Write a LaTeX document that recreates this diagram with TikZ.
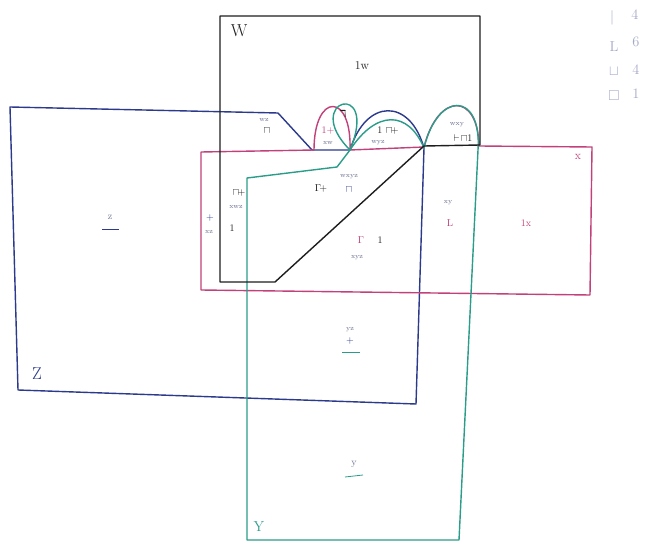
\documentclass[tikz,border=0pt]{standalone}
\usepackage{amsmath, amssymb}
\usepackage{tikz}

\definecolor{wcol}{HTML}{1E1E1E}
\definecolor{xcol}{HTML}{C2417A}
\definecolor{ycol}{HTML}{2A9D8A}
\definecolor{zcol}{HTML}{2B3A8C}
\definecolor{lab}{HTML}{6A6F90}
\definecolor{leg}{HTML}{A4A9C8}

\tikzset{
  setline/.style={line width=1.4pt, line join=round},
  tag/.style={text=lab, font=\scriptsize, inner sep=0.5pt},
  sym/.style={font=\normalsize, inner sep=0.5pt},
  legtxt/.style={text=leg, font=\Large, inner sep=0.5pt}
}

\begin{document}
\begin{tikzpicture}[x=1pt,y=-1pt]
    \useasboundingbox (0,0) rectangle (645,548);
    \fill[white] (0,0) rectangle (645,548);
    % the four sets
    \draw[setline,zcol] (10,107) -- (278,113) -- (312,150) -- (350,150)
        .. controls (366,98) and (410,98) .. (424,148) -- (416,404) -- (18,390) -- cycle;
    \draw[setline,xcol] (201,152) -- (201,290) -- (590,295) -- (592,147) -- (479,146)
        .. controls (478,92) and (438,92) .. (424,147) -- (350,150)
        .. controls (352,92) and (314,92) .. (314,150) -- cycle;
    \draw[setline,ycol] (247,540) -- (247,178) -- (337,167) -- (350,150)
        .. controls (376,110) and (408,110) .. (424,148)
        .. controls (438,90) and (482,92) .. (478,150) -- (459,540) -- cycle;
    \draw[setline,ycol] (350,150) .. controls (300,100) and (380,78) .. (350,150);
    \draw[setline,wcol] (220,16) -- (480,16) -- (480,145) -- (424,146) -- (275,282) -- (220,282) -- cycle;
    % set names
    \node[text=wcol,font=\LARGE] (nameW) at (239,31) {W};
    \node[text=zcol,font=\LARGE] (nameZ) at (37,374) {Z};
    \node[text=ycol,font=\Large] (nameY) at (259,527) {Y};
    \node[text=xcol,font=\large] (nameX) at (578,157) {x};
    % regions
    \node[text=wcol,font=\large] (rw) at (362,66) {1w};
    \node[tag] (twz) at (264,120) {wz};
    \node[sym,text=wcol] (swz) at (267,131) {$\sqcap$};
    \node[sym,text=xcol] (sxw) at (328,131) {1+};
    \node[tag] (txw) at (328,143) {xw};
    \node[sym,text=wcol] (swy) at (343,114) {$\daleth$};
    \node[sym,text=wcol] (swyz) at (388,131) {1 $\sqcap\!+$};
    \node[tag] (twyz) at (378,143) {wyz};
    \node[tag] (twxy) at (457,125) {wxy};
    \node[sym,text=wcol] (swxy) at (463,138) {$\vdash\!\sqcap$1};
    \node[sym,text=wcol] (sxwz) at (239,193) {$\sqcap\!+$};
    \node[tag] (txwz) at (236,207) {xwz};
    \node[sym,text=zcol] (sxz) at (210,218) {+};
    \node[tag] (txz) at (209,232) {xz};
    \node[sym,text=wcol] (sxz1) at (232,228) {1};
    \node[sym,text=wcol] (sg) at (321,189) {$\Gamma\!+$};
    \node[tag] (twxyz) at (349,177) {wxyz};
    \node[sym,text=zcol] (swxyz) at (349,190) {$\sqcap$};
    \node[sym,text=xcol] (sxyz) at (361,240) {$\Gamma$};
    \node[sym,text=wcol] (sxyz1) at (380,240) {1};
    \node[tag] (txyz) at (357,258) {xyz};
    \node[tag] (txy) at (448,203) {xy};
    \node[sym,text=xcol] (sxy) at (450,223) {L};
    \node[sym,text=xcol] (rx) at (526,223) {1x};
    \node[tag,font=\normalsize] (tz) at (110,217) {z};
    \draw[zcol,thick] (102,229) -- (119,229);
    \node[tag] (tyz) at (350,330) {yz};
    \node[sym,text=zcol] (syz) at (350,341) {+};
    \draw[ycol,thick] (342,352) -- (360,352);
    \node[tag,font=\normalsize] (ty) at (354,464) {y};
    \draw[ycol,thick] (345,477) -- (363,475);
    % tally
    \node[legtxt] (l1) at (612,18) {$|$};
    \node[legtxt] (n1) at (635,15) {4};
    \node[legtxt] (l2) at (614,47) {L};
    \node[legtxt] (n2) at (636,42) {6};
    \node[legtxt] (l3) at (614,72) {$\sqcup$};
    \node[legtxt] (n3) at (636,70) {4};
    \node[legtxt] (l4) at (614,96) {$\square$};
    \node[legtxt] (n4) at (636,94) {1};
\end{tikzpicture}
\end{document}
